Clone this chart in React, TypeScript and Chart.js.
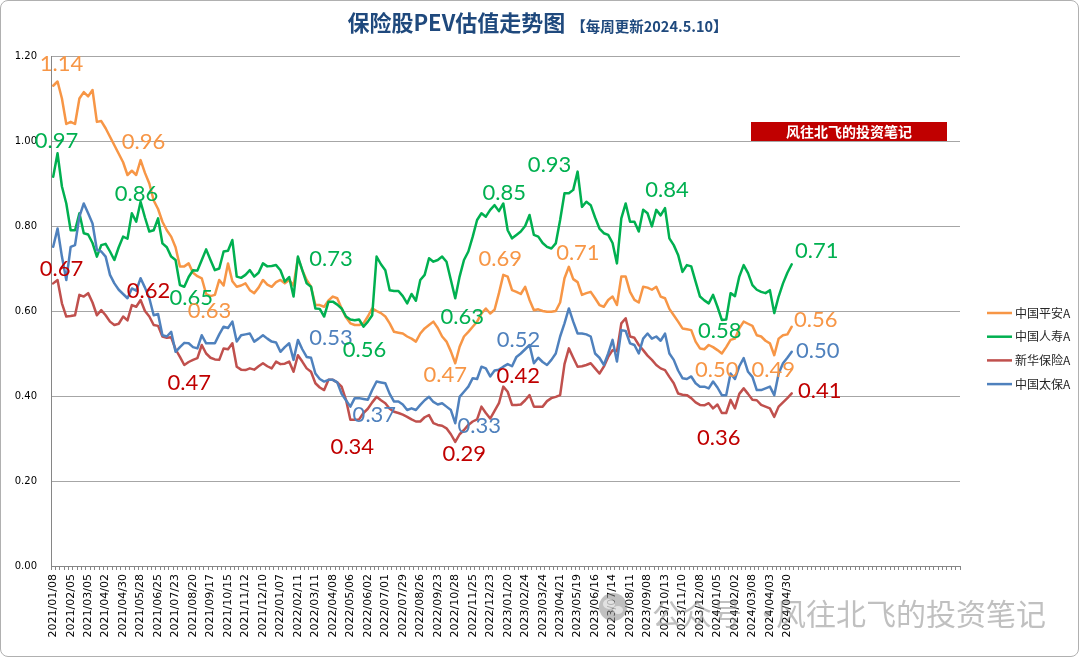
import React, { useEffect, useRef } from "react";
import { Chart, registerables } from "chart.js";

Chart.register(...registerables);

// ---------- DATA ----------
const tickLabels = [
  "2021/01/08", "2021/02/05", "2021/03/05", "2021/04/02", "2021/04/30", "2021/05/28", "2021/06/25",
  "2021/07/23", "2021/08/20", "2021/09/17", "2021/10/15", "2021/11/12", "2021/12/10",
  "2022/01/07", "2022/02/11", "2022/03/11", "2022/04/08", "2022/05/06", "2022/06/02", "2022/07/01",
  "2022/07/29", "2022/08/26", "2022/09/23", "2022/10/28", "2022/11/25", "2022/12/23",
  "2023/01/20", "2023/02/24", "2023/03/24", "2023/04/21", "2023/05/19", "2023/06/16", "2023/07/14",
  "2023/08/11", "2023/09/08", "2023/10/13", "2023/11/10", "2023/12/08",
  "2024/01/05", "2024/02/02", "2024/03/08", "2024/04/03", "2024/04/30",
];
const weeksPerTick = 4;
const totalSlots = 208; // category slots on the axis (the axis runs past the last week)

const pingan = [
  1.13, 1.14, 1.10, 1.04, 1.045, 1.04, 1.10, 1.115, 1.105, 1.12,
  1.045, 1.047, 1.03, 1.01, 0.99, 0.97, 0.95, 0.92, 0.93, 0.92,
  0.955, 0.925, 0.90, 0.86, 0.84, 0.81, 0.79, 0.775, 0.75, 0.705,
  0.705, 0.712, 0.69, 0.682, 0.677, 0.64, 0.635, 0.638, 0.673, 0.66,
  0.712, 0.67, 0.657, 0.66, 0.665, 0.649, 0.642, 0.655, 0.673, 0.662,
  0.657, 0.668, 0.673, 0.665, 0.673, 0.66, 0.725, 0.696, 0.673, 0.657,
  0.614, 0.614, 0.61, 0.625, 0.634, 0.63, 0.606, 0.585, 0.571, 0.567,
  0.567, 0.571, 0.587, 0.606, 0.60, 0.595, 0.587, 0.571, 0.551, 0.549,
  0.547, 0.54, 0.535, 0.528, 0.547, 0.559, 0.567, 0.575, 0.56, 0.54,
  0.528, 0.505, 0.477, 0.516, 0.54, 0.551, 0.563, 0.575, 0.594, 0.606,
  0.594, 0.603, 0.642, 0.685, 0.681, 0.649, 0.645, 0.64, 0.657, 0.626,
  0.602, 0.604, 0.60, 0.598, 0.598, 0.60, 0.62, 0.677, 0.704, 0.675,
  0.668, 0.638, 0.642, 0.645, 0.63, 0.614, 0.61, 0.626, 0.634, 0.614,
  0.681, 0.681, 0.645, 0.626, 0.62, 0.657, 0.655, 0.65, 0.657, 0.634,
  0.63, 0.605, 0.59, 0.575, 0.559, 0.557, 0.555, 0.528, 0.512, 0.51,
  0.52, 0.515, 0.508, 0.50, 0.515, 0.532, 0.535, 0.559, 0.575, 0.57,
  0.565, 0.543, 0.54, 0.53, 0.524, 0.496, 0.535, 0.543, 0.545, 0.563,
];

const renshou = [
  0.916, 0.971, 0.893, 0.853, 0.79, 0.79, 0.83, 0.783, 0.78, 0.76,
  0.728, 0.755, 0.758, 0.74, 0.72, 0.75, 0.775, 0.77, 0.83, 0.81,
  0.857, 0.82, 0.787, 0.79, 0.818, 0.759, 0.75, 0.728, 0.72, 0.661,
  0.657, 0.68, 0.696, 0.695, 0.72, 0.745, 0.72, 0.696, 0.70, 0.74,
  0.742, 0.767, 0.681, 0.678, 0.685, 0.696, 0.681, 0.69, 0.712, 0.705,
  0.706, 0.708, 0.696, 0.669, 0.68, 0.634, 0.728, 0.696, 0.665, 0.657,
  0.606, 0.605, 0.587, 0.622, 0.622, 0.615, 0.606, 0.587, 0.58, 0.578,
  0.58, 0.563, 0.575, 0.59, 0.728, 0.71, 0.696, 0.649, 0.647, 0.647,
  0.635, 0.618, 0.64, 0.624, 0.673, 0.685, 0.724, 0.716, 0.72, 0.728,
  0.716, 0.673, 0.63, 0.681, 0.72, 0.74, 0.775, 0.814, 0.83, 0.822,
  0.838, 0.849, 0.835, 0.853, 0.79, 0.771, 0.779, 0.787, 0.80, 0.826,
  0.779, 0.775, 0.76, 0.751, 0.747, 0.759, 0.814, 0.877, 0.877, 0.885,
  0.928, 0.845, 0.857, 0.849, 0.82, 0.794, 0.783, 0.779, 0.76, 0.712,
  0.818, 0.853, 0.81, 0.81, 0.787, 0.838, 0.83, 0.799, 0.838, 0.825,
  0.842, 0.771, 0.755, 0.732, 0.692, 0.708, 0.705, 0.669, 0.634, 0.625,
  0.618, 0.638, 0.61, 0.579, 0.58, 0.642, 0.635, 0.681, 0.708, 0.689,
  0.661, 0.65, 0.645, 0.642, 0.649, 0.595, 0.634, 0.665, 0.69, 0.71,
];

const xinhua = [
  0.665, 0.673, 0.618, 0.587, 0.588, 0.59, 0.638, 0.634, 0.642, 0.62,
  0.59, 0.602, 0.59, 0.575, 0.567, 0.57, 0.587, 0.578, 0.614, 0.61,
  0.626, 0.60, 0.587, 0.567, 0.565, 0.54, 0.537, 0.538, 0.51, 0.492,
  0.473, 0.48, 0.485, 0.489, 0.52, 0.50, 0.49, 0.486, 0.485, 0.512,
  0.51, 0.524, 0.469, 0.462, 0.461, 0.465, 0.462, 0.47, 0.477, 0.47,
  0.465, 0.481, 0.475, 0.476, 0.481, 0.457, 0.496, 0.481, 0.465, 0.457,
  0.43, 0.42, 0.414, 0.438, 0.438, 0.432, 0.422, 0.391, 0.344, 0.344,
  0.345, 0.36, 0.37, 0.385, 0.398, 0.39, 0.383, 0.37, 0.363, 0.36,
  0.356, 0.351, 0.345, 0.34, 0.34, 0.35, 0.355, 0.336, 0.332, 0.33,
  0.324, 0.31, 0.292, 0.31, 0.32, 0.332, 0.34, 0.345, 0.375, 0.36,
  0.347, 0.365, 0.383, 0.422, 0.41, 0.379, 0.379, 0.38, 0.39, 0.402,
  0.375, 0.375, 0.375, 0.388, 0.395, 0.398, 0.402, 0.475, 0.512, 0.49,
  0.469, 0.47, 0.473, 0.477, 0.465, 0.453, 0.469, 0.492, 0.508, 0.505,
  0.571, 0.583, 0.54, 0.537, 0.52, 0.508, 0.495, 0.485, 0.473, 0.465,
  0.461, 0.445, 0.43, 0.406, 0.403, 0.402, 0.395, 0.385, 0.379, 0.378,
  0.383, 0.371, 0.38, 0.36, 0.36, 0.391, 0.371, 0.405, 0.418, 0.405,
  0.391, 0.39, 0.379, 0.375, 0.371, 0.351, 0.375, 0.385, 0.395, 0.406,
];

const taibao = [
  0.751, 0.794, 0.728, 0.673, 0.751, 0.755, 0.822, 0.853, 0.83, 0.806,
  0.744, 0.74, 0.728, 0.685, 0.665, 0.65, 0.64, 0.63, 0.653, 0.648,
  0.677, 0.655, 0.63, 0.59, 0.593, 0.543, 0.54, 0.551, 0.504, 0.515,
  0.525, 0.524, 0.515, 0.512, 0.543, 0.524, 0.524, 0.524, 0.545, 0.563,
  0.56, 0.575, 0.528, 0.543, 0.545, 0.547, 0.528, 0.535, 0.543, 0.535,
  0.528, 0.526, 0.504, 0.515, 0.524, 0.485, 0.532, 0.51, 0.492, 0.49,
  0.453, 0.44, 0.434, 0.438, 0.438, 0.432, 0.405, 0.39, 0.375, 0.395,
  0.395, 0.393, 0.391, 0.414, 0.434, 0.432, 0.43, 0.405, 0.387, 0.387,
  0.38, 0.367, 0.371, 0.367, 0.379, 0.39, 0.398, 0.386, 0.38, 0.383,
  0.375, 0.367, 0.336, 0.398, 0.41, 0.422, 0.442, 0.44, 0.469, 0.465,
  0.446, 0.46, 0.462, 0.469, 0.475, 0.47, 0.492, 0.50, 0.51, 0.52,
  0.477, 0.49, 0.48, 0.473, 0.485, 0.50, 0.54, 0.571, 0.606, 0.575,
  0.547, 0.547, 0.545, 0.54, 0.50, 0.49, 0.473, 0.50, 0.532, 0.481,
  0.555, 0.553, 0.524, 0.52, 0.50, 0.535, 0.547, 0.535, 0.54, 0.53,
  0.547, 0.50, 0.485, 0.46, 0.442, 0.44, 0.446, 0.43, 0.422, 0.422,
  0.418, 0.434, 0.42, 0.402, 0.402, 0.453, 0.44, 0.47, 0.489, 0.457,
  0.445, 0.414, 0.414, 0.418, 0.422, 0.402, 0.453, 0.477, 0.49, 0.504,
];

const seriesNames = ["中国平安A", "中国人寿A", "新华保险A", "中国太保A"];
const seriesData = [pingan, renshou, xinhua, taibao];
const lineColors = ["#F79646", "#00B050", "#C0504D", "#4F81BD"];
const labelColors = ["#F79646", "#00B050", "#C00000", "#4F81BD"];

const yTicks = ["0.00", "0.20", "0.40", "0.60", "0.80", "1.00", "1.20"];

const titleMain = "保险股PEV估值走势图";
const titleSub = "【每周更新2024.5.10】";
const badgeText = "风往北飞的投资笔记";

// value annotations: series, week index, text, offset from the point
const valueLabels = [
  { s: 0, i: 1, t: "1.14", dx: 4, dy: -18 },
  { s: 1, i: 1, t: "0.97", dx: -1, dy: -12 },
  { s: 2, i: 1, t: "0.67", dx: 4, dy: -11 },
  { s: 0, i: 20, t: "0.96", dx: 3, dy: -18 },
  { s: 1, i: 20, t: "0.86", dx: -4, dy: -8 },
  { s: 2, i: 20, t: "0.62", dx: 8, dy: -9 },
  { s: 1, i: 30, t: "0.65", dx: 7, dy: 11 },
  { s: 0, i: 36, t: "0.63", dx: -1, dy: 15 },
  { s: 2, i: 30, t: "0.47", dx: 5, dy: 18 },
  { s: 1, i: 56, t: "0.73", dx: 33, dy: 2 },
  { s: 3, i: 56, t: "0.53", dx: 33, dy: -2 },
  { s: 1, i: 71, t: "0.56", dx: 1, dy: 23 },
  { s: 3, i: 68, t: "0.37", dx: 24, dy: 8 },
  { s: 2, i: 68, t: "0.34", dx: 2, dy: 27 },
  { s: 1, i: 92, t: "0.63", dx: 7, dy: 19 },
  { s: 0, i: 92, t: "0.47", dx: -10, dy: 12 },
  { s: 3, i: 92, t: "0.33", dx: 24, dy: 3 },
  { s: 2, i: 92, t: "0.29", dx: 9, dy: 12 },
  { s: 1, i: 103, t: "0.85", dx: 1, dy: -11 },
  { s: 0, i: 103, t: "0.69", dx: -3, dy: -16 },
  { s: 3, i: 109, t: "0.52", dx: -11, dy: -5 },
  { s: 2, i: 103, t: "0.42", dx: 15, dy: -11 },
  { s: 1, i: 120, t: "0.93", dx: -28, dy: -7 },
  { s: 0, i: 118, t: "0.71", dx: 9, dy: -14 },
  { s: 1, i: 140, t: "0.84", dx: 2, dy: -18 },
  { s: 1, i: 153, t: "0.58", dx: -2, dy: 11 },
  { s: 0, i: 153, t: "0.50", dx: -5, dy: 16 },
  { s: 2, i: 153, t: "0.36", dx: -3, dy: 25 },
  { s: 0, i: 165, t: "0.49", dx: -1, dy: 15 },
  { s: 1, i: 169, t: "0.71", dx: 25, dy: -13 },
  { s: 0, i: 169, t: "0.56", dx: 24, dy: -7 },
  { s: 3, i: 169, t: "0.50", dx: 26, dy: -1 },
  { s: 2, i: 169, t: "0.41", dx: 28, dy: -3 },
];

const categories: string[] = [];
for (let k = 0; k < totalSlots; k++) {
  const tickIdx = k / weeksPerTick;
  categories.push(k % weeksPerTick === 0 && tickIdx < tickLabels.length ? tickLabels[tickIdx] : "");
}

const CJK = "'Noto Sans CJK SC', 'Noto Sans', sans-serif";

const decorPlugin = {
  id: "decor",
  afterDatasetsDraw(chart: any) {
    const ctx = chart.ctx;
    ctx.save();
    ctx.font = "22px Lato, 'Open Sans', sans-serif";
    ctx.textAlign = "center";
    ctx.textBaseline = "middle";
    for (const lb of valueLabels) {
      const meta = chart.getDatasetMeta(lb.s);
      const pt = meta.data[lb.i];
      if (!pt) continue;
      ctx.fillStyle = labelColors[lb.s];
      ctx.fillText(lb.t, pt.x + lb.dx, pt.y + lb.dy);
    }
    ctx.restore();
  },
  afterDraw(chart: any) {
    const ctx = chart.ctx;
    const area = chart.chartArea;
    ctx.save();
    // title
    ctx.fillStyle = "#1F497D";
    ctx.textBaseline = "middle";
    ctx.textAlign = "left";
    ctx.font = `bold 22px ${CJK}`;
    const w1 = ctx.measureText(titleMain).width;
    ctx.font = `bold 14.5px ${CJK}`;
    const w2 = ctx.measureText(titleSub).width;
    const total = w1 + 6 + w2;
    const startX = (area.left + area.right) / 2 + 32 - total / 2;
    ctx.font = `bold 22px ${CJK}`;
    ctx.fillText(titleMain, startX, 23);
    ctx.font = `bold 14.5px ${CJK}`;
    ctx.fillText(titleSub, startX + w1 + 6, 26);

    // red badge
    const bx = area.right - 209;
    const by = chart.scales.y.getPixelForValue(1.0) - 19;
    ctx.fillStyle = "#C00000";
    ctx.fillRect(bx, by, 196, 19);
    ctx.fillStyle = "#FFFFFF";
    ctx.textAlign = "center";
    ctx.font = `bold 14px ${CJK}`;
    ctx.fillText(badgeText, bx + 98, by + 10);

    // legend
    const lx = area.right + 27;
    const ly0 = 313;
    for (let k = 0; k < seriesNames.length; k++) {
      const y = ly0 + k * 23.7;
      ctx.strokeStyle = lineColors[k];
      ctx.lineWidth = 2.5;
      ctx.beginPath();
      ctx.moveTo(lx, y);
      ctx.lineTo(lx + 25, y);
      ctx.stroke();
      ctx.fillStyle = "#262626";
      ctx.textAlign = "left";
      ctx.font = `12px ${CJK}`;
      ctx.fillText(seriesNames[k], lx + 28, y);
    }

    // watermark
    ctx.globalAlpha = 0.55;
    ctx.fillStyle = "#8C8C8C";
    ctx.beginPath();
    ctx.arc(613, 607, 14, 0, Math.PI * 2);
    ctx.fill();
    ctx.fillStyle = "#FFFFFF";
    ctx.beginPath();
    ctx.ellipse(609, 604, 6, 5, 0, 0, Math.PI * 2);
    ctx.fill();
    ctx.beginPath();
    ctx.ellipse(618, 610, 5, 4, 0, 0, Math.PI * 2);
    ctx.fill();
    ctx.fillStyle = "#8C8C8C";
    ctx.font = `30px ${CJK}`;
    ctx.textAlign = "left";
    ctx.fillText("公众号", 652, 614);
    ctx.fillText("·", 752, 614);
    ctx.fillText("风往北飞的投资笔记", 776, 614);
    ctx.restore();
  },
};

export default function App() {
  const canvasRef = useRef<HTMLCanvasElement | null>(null);

  useEffect(() => {
    document.body.style.margin = "0";
    const canvas = canvasRef.current;
    if (!canvas) return;
    const chart = new Chart(canvas, {
      type: "line",
      data: {
        labels: categories,
        datasets: seriesData.map((d, k) => ({
          label: seriesNames[k],
          data: d,
          borderColor: lineColors[k],
          backgroundColor: lineColors[k],
          borderWidth: 2.5,
          pointRadius: 0,
          tension: 0,
          fill: false,
          borderJoinStyle: "round" as const,
          borderCapStyle: "round" as const,
          order: seriesData.length - 1 - k,
        })),
      },
      options: {
        responsive: false,
        animation: false,
        devicePixelRatio: 1,
        layout: { padding: { left: 0, top: 56, right: 120, bottom: 0 } },
        plugins: {
          legend: { display: false },
          tooltip: { enabled: false },
          title: { display: false },
        },
        scales: {
          x: {
            type: "category",
            offset: true,
            grid: {
              display: true,
              drawOnChartArea: false,
              drawTicks: true,
              tickLength: 4,
              offset: true,
              color: "#868686",
            },
            border: { display: true, color: "#868686" },
            ticks: {
              autoSkip: false,
              maxRotation: 90,
              minRotation: 90,
              padding: 4,
              color: "#000000",
              font: { family: "'DejaVu Sans'", size: 11 },
            },
            afterFit: (s: any) => {
              s.height = 92;
            },
          },
          y: {
            min: 0,
            max: 1.2,
            ticks: {
              stepSize: 0.2,
              callback: (v: any) => yTicks[Math.round(Number(v) / 0.2)] ?? "",
              color: "#000000",
              font: { family: "'DejaVu Sans'", size: 10 },
              padding: 14,
            },
            grid: { color: "#A6A6A6", drawTicks: false },
            border: { display: true, color: "#868686" },
            afterFit: (s: any) => {
              s.width = 51;
            },
          },
        },
      },
      plugins: [decorPlugin],
    });
    return () => chart.destroy();
  }, []);

  return (
    <div style={{ position: "relative", width: 1080, height: 658, background: "#fff" }}>
      <canvas ref={canvasRef} width={1080} height={658} style={{ display: "block" }} />
      <div
        style={{
          position: "absolute",
          left: 0,
          top: 0,
          width: 1077,
          height: 655,
          border: "1px solid #B0B0B0",
          borderRadius: 8,
          pointerEvents: "none",
        }}
      />
    </div>
  );
}
